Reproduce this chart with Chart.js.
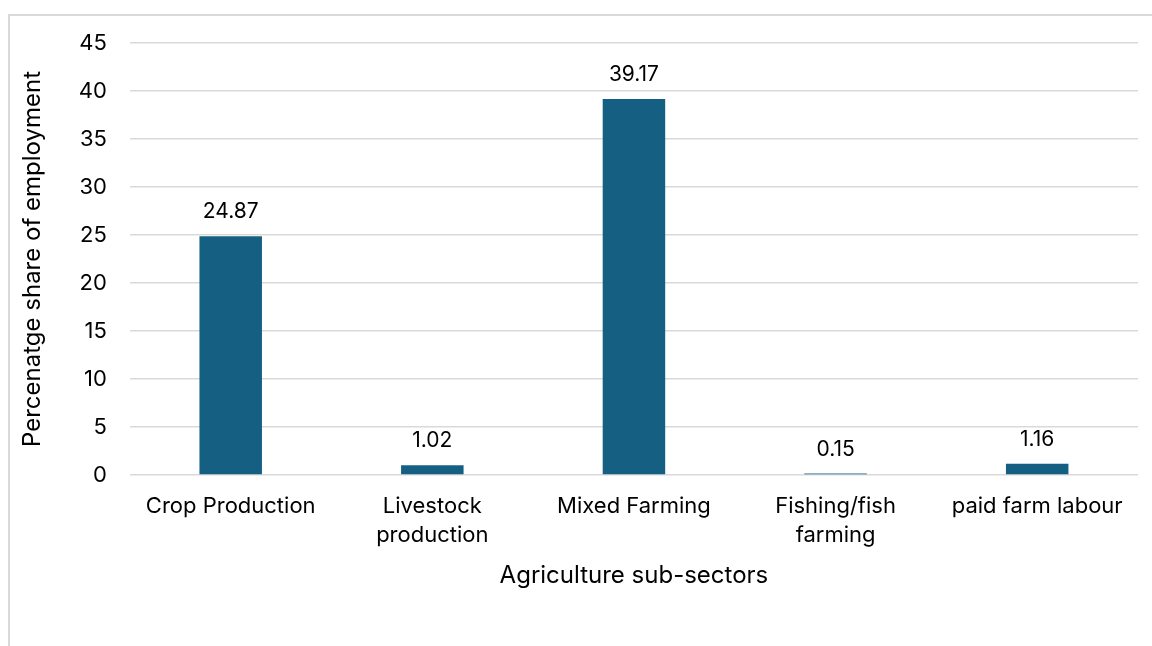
<!DOCTYPE html>
<html>
<head>
<meta charset="utf-8">
<script src="https://cdn.jsdelivr.net/npm/chart.js@4"></script>
<style>
  html, body { margin: 0; padding: 0; background: #fff; }
  #wrap { position: relative; width: 1152px; height: 646px; overflow: hidden; }
  #frame { position: absolute; left: 8px; top: 14px; width: 1200px; height: 700px;
           border-left: 2px solid #d9d9d9; border-top: 2px solid #d9d9d9; }
  #chartBox { position: absolute; left: 0; top: 0; width: 1152px; height: 646px; }
</style>
</head>
<body>
<div id="wrap">
  <div id="frame"></div>
  <div id="chartBox"><canvas id="chart"></canvas></div>
</div>
<script>
// data
const sectors = [
  'Crop Production',
  ['Livestock', 'production'],
  'Mixed Farming',
  ['Fishing/fish', 'farming'],
  'paid farm labour'
];
const shares = [24.87, 1.02, 39.17, 0.15, 1.16];

const FONT = 'Inter, "Liberation Sans", sans-serif';
const TEXT = '#000000';

// draws the value above each bar
const valueLabels = {
  id: 'valueLabels',
  afterDatasetsDraw(chart) {
    const ctx = chart.ctx;
    const meta = chart.getDatasetMeta(0);
    ctx.save();
    ctx.font = '21px ' + FONT;
    ctx.fillStyle = TEXT;
    ctx.textAlign = 'center';
    ctx.textBaseline = 'alphabetic';
    meta.data.forEach((bar, i) => {
      ctx.fillText(shares[i].toFixed(2), bar.x, bar.y - 18);
    });
    ctx.restore();
  }
};

new Chart(document.getElementById('chart'), {
  type: 'bar',
  data: {
    labels: sectors,
    datasets: [{
      data: shares,
      backgroundColor: '#156082',
      categoryPercentage: 1,
      barPercentage: 0.31
    }]
  },
  options: {
    responsive: true,
    maintainAspectRatio: false,
    animation: false,
    layout: { padding: { left: 14, top: 43, right: 14, bottom: 52 } },
    plugins: {
      legend: { display: false },
      tooltip: { enabled: false }
    },
    scales: {
      x: {
        grid: { display: false },
        border: { display: false },
        ticks: { color: TEXT, font: { family: FONT, size: 22, lineHeight: 1.3 }, maxRotation: 0, padding: 9 },
        title: { display: true, text: 'Agriculture sub-sectors', color: TEXT,
                 font: { family: FONT, size: 24 }, padding: { top: 3, bottom: 4 } }
      },
      y: {
        min: 0, max: 45,
        ticks: { stepSize: 5, color: TEXT, font: { family: FONT, size: 22 }, padding: 23 },
        grid: { color: '#d9d9d9', lineWidth: 1.5, drawTicks: false },
        border: { display: false },
        title: { display: true, text: 'Percenatge share of employment', color: TEXT,
                 font: { family: FONT, size: 24 }, padding: { top: 4, bottom: 9 } }
      }
    }
  },
  plugins: [valueLabels]
});
</script>
</body>
</html>
